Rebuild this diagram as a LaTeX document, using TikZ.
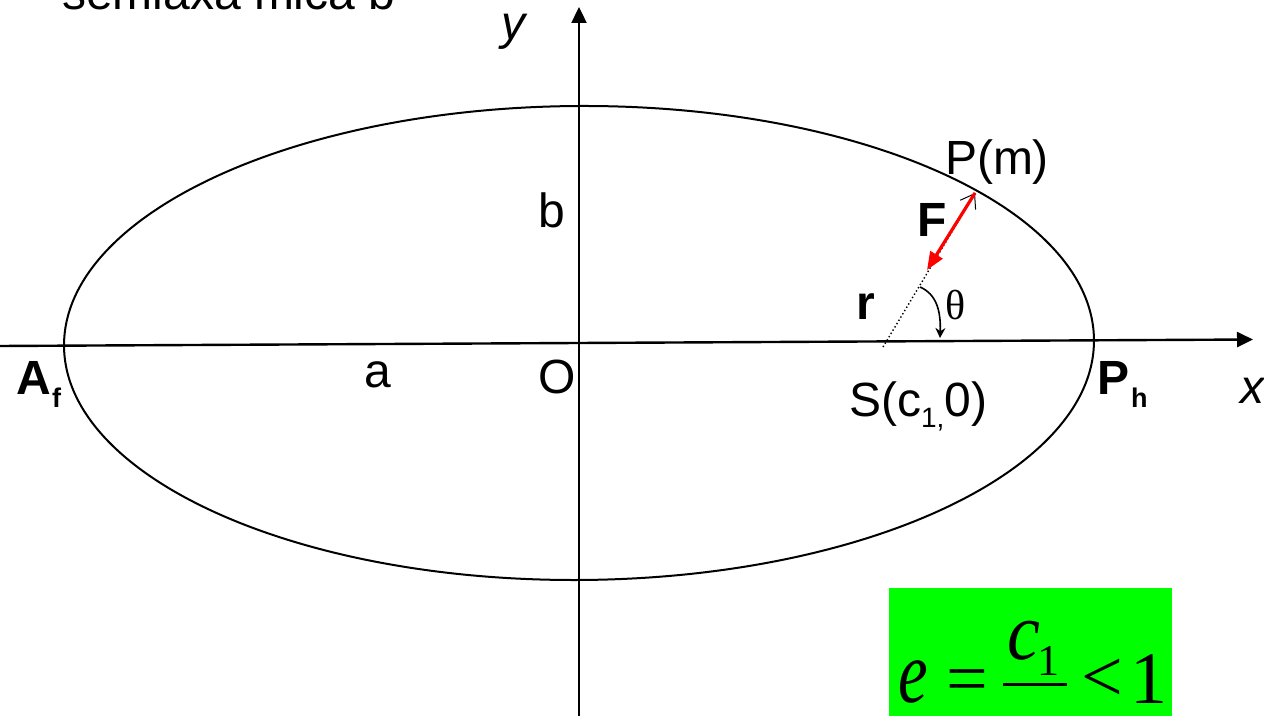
\documentclass[tikz,border=0pt]{standalone}
\usepackage{fontspec}
\setmainfont{Liberation Sans}
\newfontfamily\tnr{Liberation Serif}
\usetikzlibrary{arrows.meta,calc}
\tikzset{
  lbl/.style={inner sep=0pt, outer sep=0pt, anchor=base west, font=\fontsize{24}{28}\selectfont},
  sub/.style={inner sep=0pt, outer sep=0pt, anchor=base west, font=\fontsize{13.5}{16}\selectfont\bfseries},
  mth/.style={inner sep=0pt, outer sep=0pt, anchor=base west, font=\tnr\fontsize{37}{40}\selectfont},
  axis/.style={line width=1.2pt, -{Triangle[length=8pt,width=7.5pt]}},
}
\begin{document}
\begin{tikzpicture}[x=0.5pt,y=-0.5pt]
\useasboundingbox (0,0) rectangle (1264,716);
\clip (0,0) rectangle (1264,716);
% green box
\fill[fill={rgb,255:red,0;green,255;blue,0}] (889,588) rectangle (1172,720);
% axes
\coordinate (xs) at (0,346);
\coordinate (xe) at (1253,339.5);
\coordinate (ys) at (579,720);
\coordinate (ye) at (579,7);
\draw[axis] (xs) -- (xe);
\draw[axis] (ys) -- (ye);
% ellipse
\draw[line width=1pt, rotate around={0.33:(579,343)}] (579,343) ellipse [x radius=257.5pt, y radius=118.5pt];
% points
\coordinate (S) at (883,347);
\coordinate (P) at (975,193);
\coordinate (Ft) at (927,270);
\coordinate (th1) at (920,287);
\coordinate (th2) at (940,338);
% r vector dotted
\draw[line width=0.7pt, dash pattern=on 0.7pt off 1.2pt] (S) -- (P);
\draw[line width=0.5pt, -{Straight Barb[length=6.5pt,width=9pt]}] ($(S)!0.9!(P)$) -- (P);
% force
\draw[red, line width=1.6pt, -{Triangle[length=9pt,width=7pt]}] (P) -- (Ft);
% theta arc
\draw[line width=0.8pt, -{Stealth[length=5pt,width=5pt]}] (th1) .. controls (936,294) and (941,310) .. (th2);
% labels
\node[lbl] (semi) at (62,10) {semiaxa mica b};
\node[lbl, font=\fontsize{24}{28}\selectfont\itshape] (ylab) at (501,40) {y};
\node[lbl] (blab) at (538,228) {b};
\node[lbl] (alab) at (364,388) {a};
\node[lbl] (olab) at (538,394) {O};
\node[lbl, font=\fontsize{24}{28}\selectfont\bfseries] (A) at (17,395) {A};
\node[sub] (f) at (52,408) {f};
\node[lbl, font=\fontsize{24}{28}\selectfont\bfseries] (Ph) at (1097,395) {P};
\node[sub] (h) at (1131,408) {h};
\node[lbl, font=\fontsize{24}{28}\selectfont\itshape] (xlab) at (1240,404) {x};
\node[lbl] (Slab) at (849,417) {S(c\raisebox{-5.5pt}{\fontsize{14}{16}\selectfont 1,}0)};
\node[lbl] (Pm) at (945,175) {P(m)};
\node[lbl, font=\fontsize{24}{28}\selectfont\bfseries] (Flab) at (917,237) {F};
\node[lbl, font=\fontsize{24}{28}\selectfont\bfseries] (rlab) at (856,320) {r};
\node[lbl, font=\tnr\fontsize{21}{24}\selectfont] (th) at (945,320) {θ};
% formula
\node[mth, font=\tnr\itshape\fontsize{37}{40}\selectfont, xscale=0.9, yscale=1.2] (e) at (898,702) {e};
\node[mth] (eq) at (946,703) {=};
\node[mth, font=\tnr\itshape\fontsize{37}{40}\selectfont, yscale=1.1] (c) at (1007,659) {c};
\node[mth, font=\tnr\fontsize{22}{24}\selectfont] (one1) at (1037,675) {1};
\coordinate (b1) at (1003,684);
\coordinate (b2) at (1067,684);
\draw[line width=1.5pt] (b1) -- (b2);
\node[mth] (lt) at (1081,701) {<};
\node[mth] (one2) at (1130,703) {1};
\end{tikzpicture}
\end{document}
